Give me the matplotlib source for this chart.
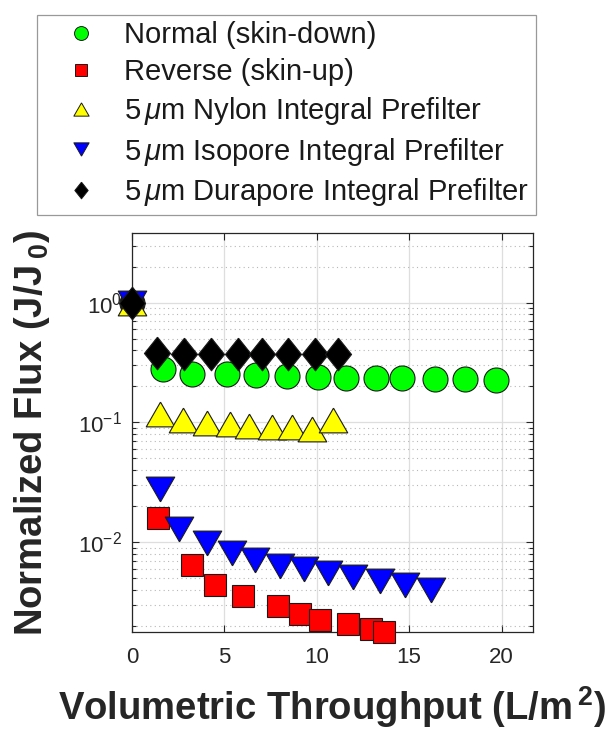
import matplotlib.pyplot as plt
from matplotlib.lines import Line2D
from matplotlib.ticker import FixedLocator, LogLocator, NullLocator

plt.rcParams['font.family'] = ['Liberation Sans', 'DejaVu Sans']
plt.rcParams['mathtext.fontset'] = 'custom'
plt.rcParams['mathtext.rm'] = 'Liberation Sans'
plt.rcParams['mathtext.it'] = 'Liberation Sans:italic'
plt.rcParams['mathtext.bf'] = 'Liberation Sans:bold'

# volumetric throughput (L/m^2) vs normalized flux J/J0 for each membrane set-up
normal_x = [0, 1.68, 3.24, 5.14, 6.70, 8.38, 10.05, 11.57, 13.19, 14.59, 16.38, 18.0, 19.68]
normal_y = [1, 0.280, 0.255, 0.255, 0.250, 0.243, 0.238, 0.236, 0.233, 0.233, 0.231, 0.229, 0.225]

reverse_x = [0, 1.43, 3.24, 4.49, 6.0, 7.89, 9.08, 10.16, 11.68, 12.92, 13.62]
reverse_y = [1, 0.0159, 0.00643, 0.00437, 0.00353, 0.00291, 0.00250, 0.00222, 0.00206, 0.00187, 0.00177]

nylon_x = [0, 1.51, 2.76, 4.05, 5.3, 6.32, 7.57, 8.65, 9.73, 10.86]
nylon_y = [1, 0.118, 0.105, 0.099, 0.097, 0.094, 0.091, 0.091, 0.088, 0.105]

isopore_x = [0, 1.51, 2.54, 4.05, 5.41, 6.65, 8.0, 9.3, 10.6, 11.95, 13.4, 14.76, 16.2]
isopore_y = [1, 0.0278, 0.01285, 0.0098, 0.0081, 0.00707, 0.0063, 0.00594, 0.00551,
             0.00509, 0.00472, 0.00437, 0.00401]

durapore_x = [0, 1.35, 2.81, 4.27, 5.73, 7.03, 8.43, 9.89, 11.14]
durapore_y = [1, 0.382, 0.376, 0.376, 0.375, 0.373, 0.373, 0.372, 0.370]

labels = ['Normal (skin-down)',
          'Reverse (skin-up)',
          r'5$\,\mu$m Nylon Integral Prefilter',
          r'5$\,\mu$m Isopore Integral Prefilter',
          r'5$\,\mu$m Durapore Integral Prefilter']

# MATLAB-like marker shapes
diamond = [(0, 1), (0.8, 0), (0, -1), (-0.8, 0), (0, 1)]
tri_up = [(0, 0.87), (1, -0.87), (-1, -0.87), (0, 0.87)]
tri_down = [(0, -0.87), (1, 0.87), (-1, 0.87), (0, -0.87)]

series = [
    (normal_x, normal_y, 'o', '#00ff00', 18, 10),
    (reverse_x, reverse_y, 's', '#ff0000', 15.5, 8),
    (nylon_x, nylon_y, tri_up, '#ffff00', 20.5, 11),
    (isopore_x, isopore_y, tri_down, '#0000ff', 20.5, 11),
    (durapore_x, durapore_y, diamond, '#000000', 23.5, 12),
]

fig = plt.figure(figsize=(6.08, 7.33), dpi=100)
ax = fig.add_axes([0.2171, 0.1378, 0.6595, 0.5443])

handles = []
for (xs, ys, mk, col, ms, lms), lab in zip(series, labels):
    ax.plot(xs, ys, linestyle='none', marker=mk, markersize=ms,
            markerfacecolor=col, markeredgecolor='#1a1a1a',
            markeredgewidth=0.8, clip_on=False, zorder=3)
    handles.append(Line2D([], [], linestyle='none', marker=mk, markersize=lms,
                          markerfacecolor=col, markeredgecolor='#1a1a1a',
                          markeredgewidth=0.7))

ax.set_yscale('log')
ax.set_xlim(0, 21.7)
ax.set_ylim(1.77e-3, 3.83)
ax.xaxis.set_major_locator(FixedLocator([0, 5, 10, 15, 20]))
ax.xaxis.set_minor_locator(NullLocator())
ax.yaxis.set_major_locator(LogLocator(base=10, numticks=10))
ax.yaxis.set_minor_locator(LogLocator(base=10, subs=range(2, 10), numticks=10))

ax.grid(which='major', color='#dedede', linestyle='-', linewidth=0.9, zorder=0)
ax.grid(which='minor', axis='y', color='#b8b8b8', linestyle=(0, (1, 3)), linewidth=0.8)
ax.set_axisbelow(True)

for sp in ax.spines.values():
    sp.set_color('#262626')
    sp.set_linewidth(0.9)
ax.tick_params(which='both', direction='in', top=True, right=True,
               colors='#262626', labelsize=16, width=0.8)
ax.tick_params(which='major', length=5)
ax.tick_params(which='minor', length=3)
ax.tick_params(axis='x', which='major', pad=11)
ax.tick_params(axis='y', which='major', pad=7)

ax.set_xlabel(r'Volumetric Throughput (L/m$\,^{\mathbf{2}}$)', fontsize=27.5,
              fontweight='bold', color='#262626')
ax.xaxis.set_label_coords(0.5, -0.13)
ax.set_ylabel(r'Normalized Flux (J/J$\,_{\mathbf{0}}$)', fontsize=27.5,
              fontweight='bold', color='#262626')
ax.yaxis.set_label_coords(-0.20, 0.5)

leg = fig.legend(handles, labels, loc='upper left', bbox_to_anchor=(0.0609, 0.9795),
                 borderaxespad=0, frameon=True, fancybox=False, fontsize=21,
                 handlelength=2.6, handletextpad=0.16, borderpad=0.22,
                 labelspacing=0.3)
leg.get_frame().set_edgecolor('#808080')
leg.get_frame().set_linewidth(0.9)
for t in leg.get_texts():
    t.set_color('#1a1a1a')

fig.savefig('out.png', dpi=100)
